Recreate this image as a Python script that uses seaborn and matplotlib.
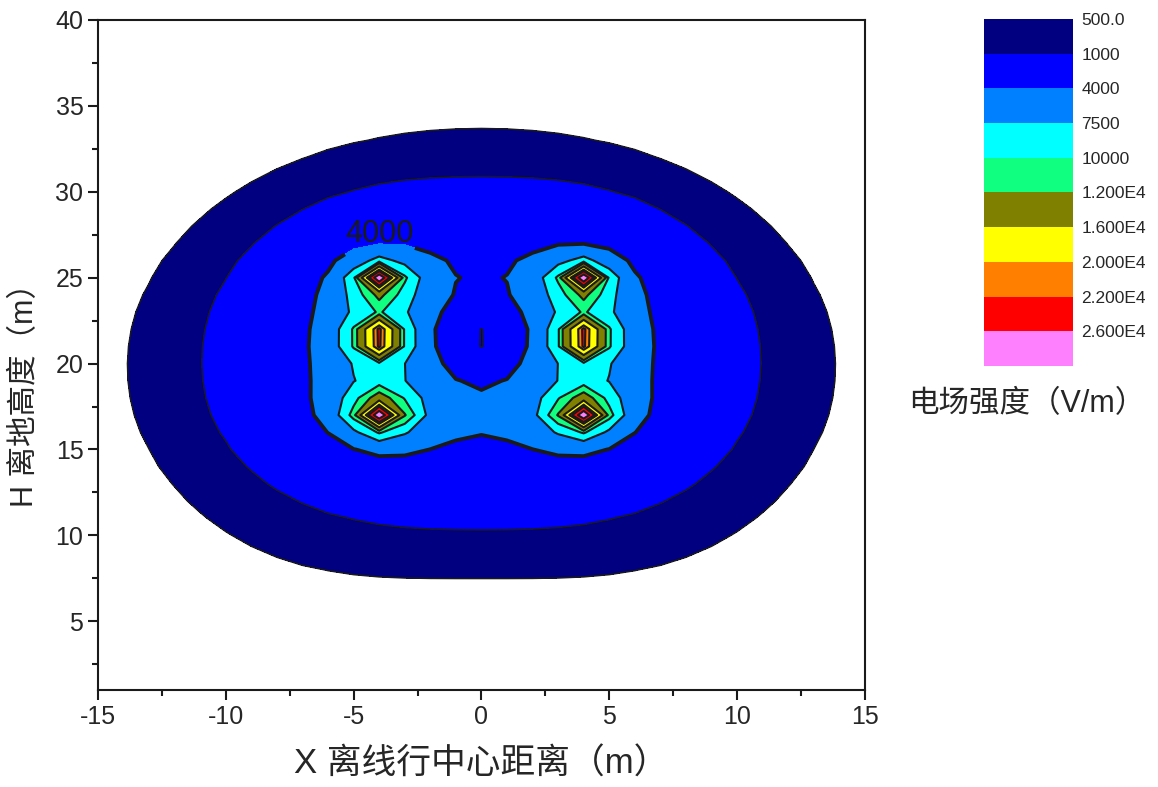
import numpy as np
import matplotlib
matplotlib.use("Agg")
import matplotlib.pyplot as plt
import seaborn as sns
from matplotlib.ticker import MultipleLocator

# --- datos: conductores de la línea de doble circuito (fase inversa ABC / CBA) ---
cond_x = [-4, -4, -4, 4, 4, 4]                        # m
cond_y = [25, 21.5, 17, 25, 21.5, 17]                 # m
cond_phase = [0, -120, 120, 120, -120, 0]             # grados
cond_coef = [10000, 11000, 11600, 10000, 11000, 11600]  # V  (E ~ coef / r)
peak_field = 3.0e4        # valor en los nodos que caen sobre un conductor
use_ground_image = True   # cargas imagen bajo el suelo (y = 0)

grid_x = np.arange(-15, 15.5, 1.0)
grid_y = np.arange(0, 40.5, 1.0)

levels = [500, 1000, 4000, 7500, 10000, 12000, 16000, 20000, 22000, 26000, 40000]
level_labels = ['500.0', '1000', '4000', '7500', '10000',
                '1.200E4', '1.600E4', '2.000E4', '2.200E4', '2.600E4']
fill_colors = ['#000080', '#0000FF', '#0080FF', '#00FFFF', '#10FF80',
               '#808000', '#FFFF00', '#FF8000', '#FF0000', '#FF80FF']

# --- campo eléctrico (valor eficaz) en la malla ---
X, Y = np.meshgrid(grid_x, grid_y)
Ex = np.zeros(X.shape, dtype=complex)
Ey = np.zeros(X.shape, dtype=complex)
on_cond = np.zeros(X.shape, dtype=bool)
for x0, y0, ph, c in zip(cond_x, cond_y, cond_phase, cond_coef):
    q = c * np.exp(1j * np.deg2rad(ph))
    dx = X - x0
    dy = Y - y0
    r2 = dx**2 + dy**2
    hit = r2 < 1e-9
    on_cond |= hit
    r2 = np.where(hit, 1.0, r2)
    Ex += np.where(hit, 0, q * dx / r2)
    Ey += np.where(hit, 0, q * dy / r2)
    if use_ground_image:
        dyi = Y + y0
        r2i = dx**2 + dyi**2
        Ex -= q * dx / r2i
        Ey -= q * dyi / r2i
E = np.sqrt(np.abs(Ex)**2 + np.abs(Ey)**2)
E[on_cond] = peak_field

# --- gráfico ---
sns.set_theme(style="ticks")
plt.rcParams['font.family'] = ['Liberation Sans', 'Noto Sans CJK SC']
plt.rcParams['axes.unicode_minus'] = False

fig = plt.figure(figsize=(11.58, 7.87), dpi=100)
ax = fig.add_axes([0.0846, 0.1233, 0.6623, 0.8513])

cf = ax.contourf(X, Y, E, levels=levels, colors=fill_colors)
thin_levels = [lv for lv in levels[:-1] if lv != 4000]
thin_w = [1.1 if lv <= 1000 else 1.5 for lv in thin_levels]
ax.contour(X, Y, E, levels=thin_levels, colors='k', linewidths=thin_w)
cl4 = ax.contour(X, Y, E, levels=[4000], colors='k', linewidths=2.7)
lbls = ax.clabel(cl4, manual=[(-4, 27.2)], inline=True, inline_spacing=2,
                 fontsize=22, fmt='%d', colors='k')
for t in lbls:
    t.set_rotation(0)
    px, py = t.get_position()
    t.set_position((px, py + 0.6))

ax.set_xlim(-15, 15)
ax.set_ylim(1, 40)
ax.xaxis.set_major_locator(MultipleLocator(5))
ax.xaxis.set_minor_locator(MultipleLocator(2.5))
ax.yaxis.set_major_locator(MultipleLocator(5))
ax.yaxis.set_minor_locator(MultipleLocator(2.5))
ax.tick_params(which='major', direction='out', length=7, width=1.5,
               labelsize=18, top=False, right=False, color='k')
ax.tick_params(which='minor', direction='out', length=4, width=1.5,
               top=False, right=False, color='k')
for s in ax.spines.values():
    s.set_visible(True)
    s.set_color('k')
    s.set_linewidth(1.5)

ax.set_xlabel('X 离线行中心距离（m）', fontsize=25, labelpad=14)
ax.set_ylabel('H 离地高度（m）', fontsize=22)
ax.yaxis.set_label_coords(-0.075, 0.452)

# --- leyenda de colores ---
cax = fig.add_axes([0.8497, 0.535, 0.0769, 0.441])
cbar = fig.colorbar(cf, cax=cax, spacing='uniform', ticks=levels[:-1])
cax.invert_yaxis()
cbar.set_ticklabels(level_labels)
cbar.outline.set_visible(False)
cax.tick_params(length=0, labelsize=12.5, pad=6)
fig.text(0.887, 0.486, '电场强度（V/m）', fontsize=22, ha='center', va='center')

fig.savefig('out.png', dpi=100, facecolor='white')
